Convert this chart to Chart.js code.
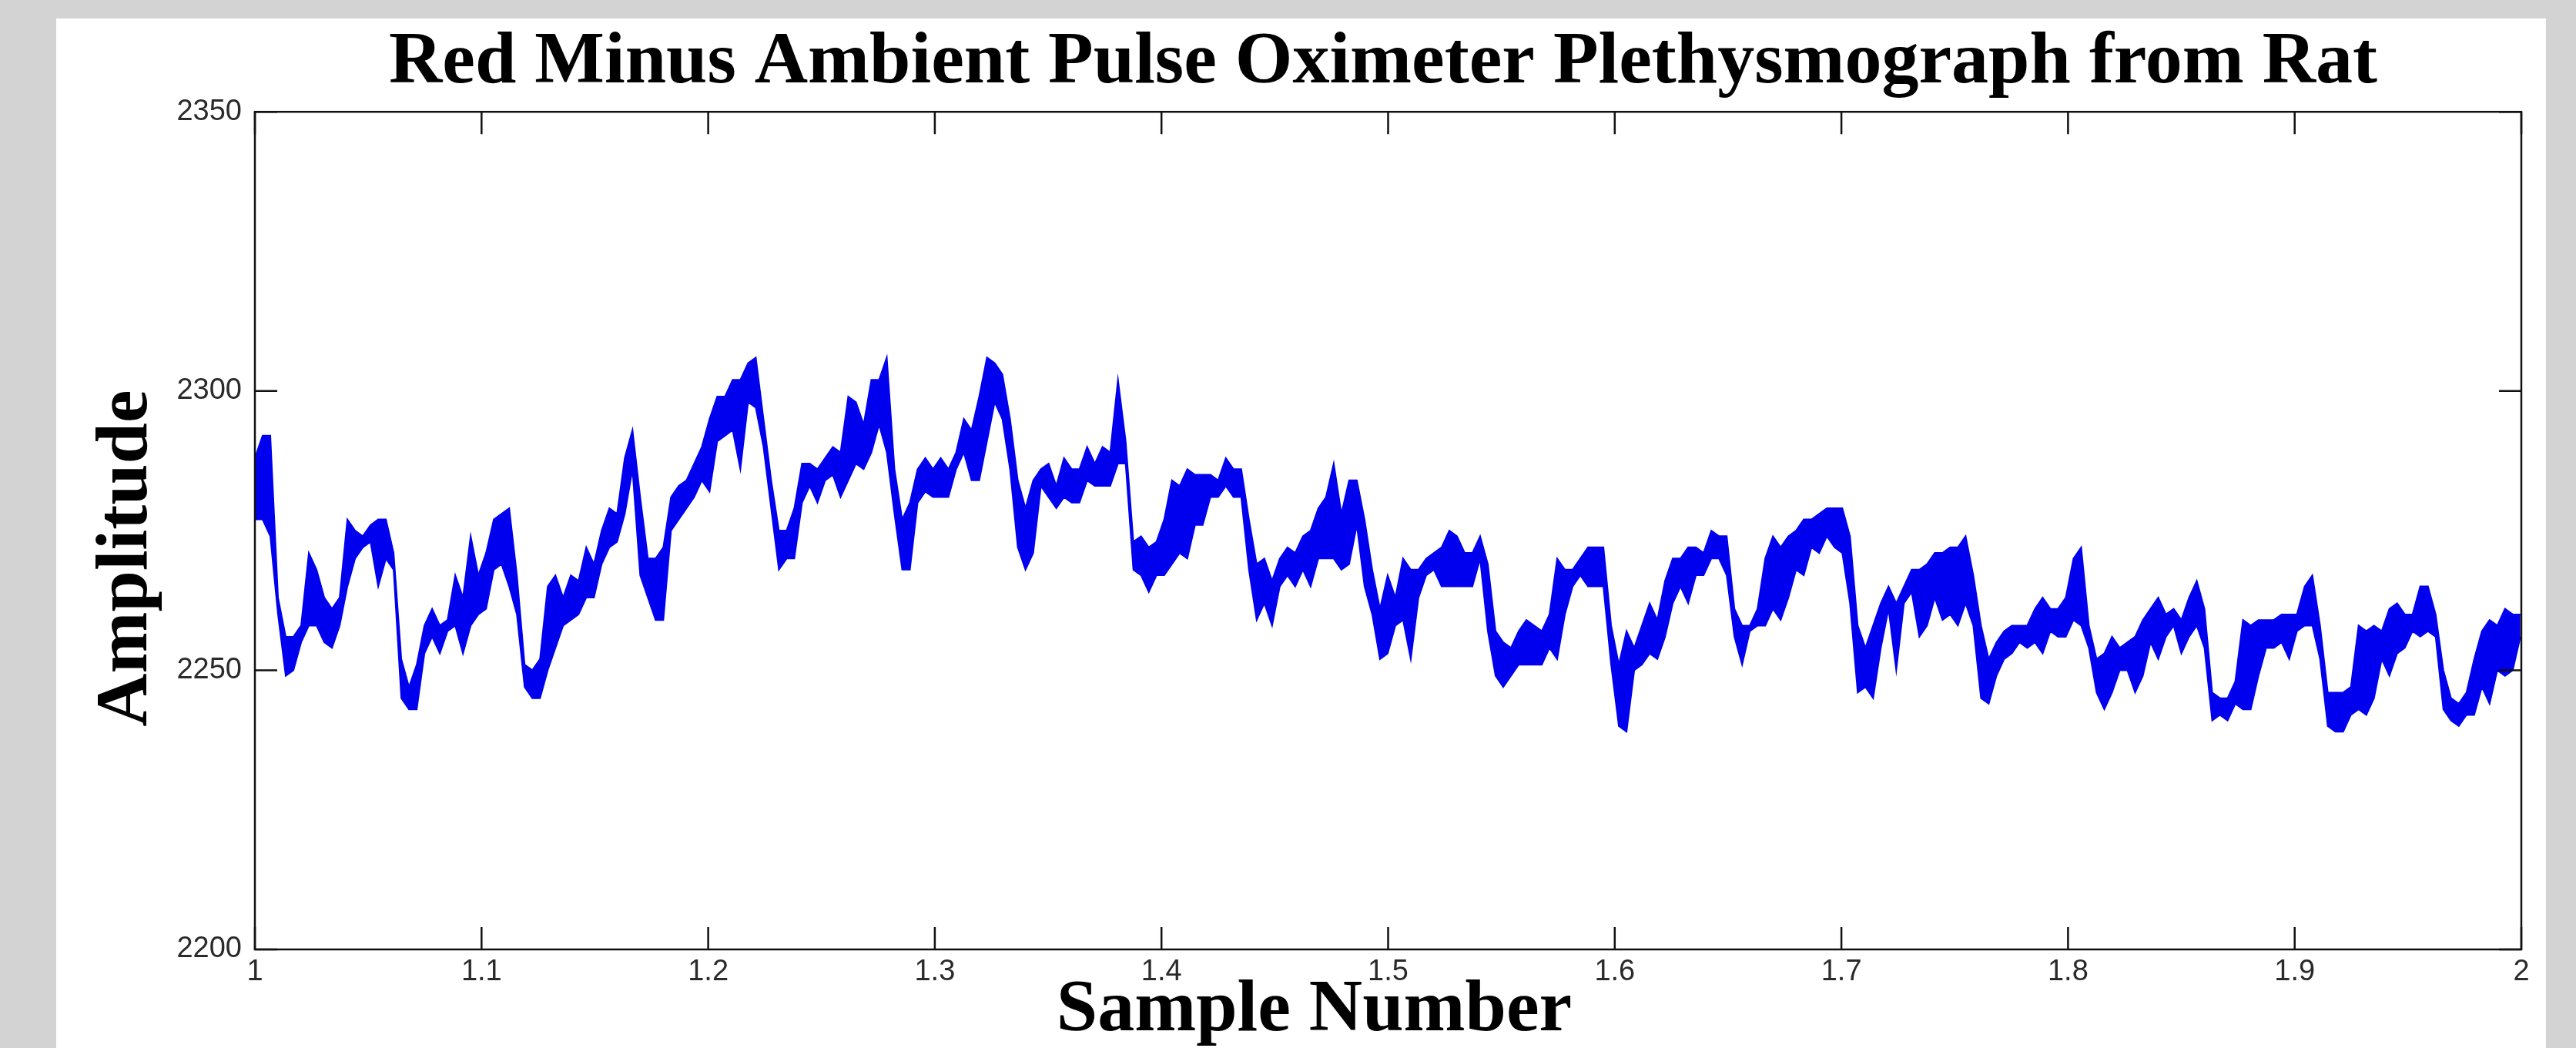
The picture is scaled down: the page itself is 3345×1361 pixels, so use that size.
<!DOCTYPE html>
<html>
<head>
<meta charset="utf-8">
<script src="https://cdn.jsdelivr.net/npm/chart.js@4.4.1/dist/chart.umd.min.js"></script>
<style>
  html, body { margin: 0; width: 3345px; height: 1361px; overflow: hidden; background: #d3d3d3; }
  #panel { position: absolute; left: 73px; top: 24px; width: 3233px; height: 1337px; background: #fff; }
  #plot { position: absolute; left: 100px; top: 0; }
</style>
</head>
<body>
<div id="panel"></div>
<canvas id="plot" width="3392" height="1361"></canvas>
<script>
// sample numbers run from 1 to 2, read every 0.0034
const sampleStart = 1;
const sampleStep = 0.0034;

// upper edge of the noisy trace
const bandTop = [
  2288, 2292, 2292, 2263, 2256, 2256, 2258, 2271, 2268, 2263, 2261, 2263, 2277, 2275, 2274, 2276, 2277,
  2277, 2271, 2252, 2247, 2251, 2258, 2261, 2258, 2259, 2267, 2263, 2274, 2267, 2271, 2277, 2278, 2279,
  2267, 2251, 2250, 2252, 2265, 2267, 2263, 2267, 2266, 2272, 2269, 2275, 2279, 2278, 2288,
  2293, 2281, 2270, 2270, 2272, 2281, 2283, 2284, 2287, 2290, 2295, 2299, 2299, 2302, 2302, 2305, 2306,
  2295, 2284, 2275, 2275, 2279, 2287, 2287, 2286, 2288, 2290, 2289, 2299, 2298, 2294, 2302, 2302, 2306,
  2286, 2277, 2280, 2286, 2288, 2286, 2288, 2286, 2289, 2295, 2293, 2299, 2306, 2305, 2303,
  2295, 2284, 2279, 2284, 2286, 2287, 2283, 2288, 2286, 2286, 2290, 2287, 2290, 2289, 2302, 2291, 2273,
  2274, 2272, 2273, 2277, 2284, 2283, 2286, 2285, 2285, 2285, 2284, 2288, 2286, 2286, 2277, 2269, 2270,
  2266, 2270, 2272, 2271, 2274, 2275, 2279, 2281, 2287, 2278, 2284, 2284, 2277, 2268, 2261,
  2267, 2263, 2270, 2268, 2268, 2270, 2271, 2272, 2275, 2274, 2271, 2271, 2274, 2269, 2257, 2255, 2254,
  2257, 2259, 2258, 2257, 2260, 2270, 2268, 2268, 2270, 2272, 2272, 2272, 2258, 2251, 2257, 2254, 2258,
  2262, 2259, 2266, 2270, 2270, 2272, 2272, 2271, 2275, 2274, 2274, 2261, 2258, 2258, 2261,
  2270, 2274, 2272, 2274, 2275, 2277, 2277, 2278, 2279, 2279, 2279, 2274, 2258, 2254, 2258, 2262, 2265,
  2262, 2265, 2268, 2268, 2269, 2271, 2271, 2272, 2272, 2274, 2267, 2258, 2252, 2255, 2257, 2258, 2258,
  2258, 2261, 2263, 2261, 2261, 2263, 2270, 2272, 2258, 2252, 2253, 2256, 2254, 2255, 2256,
  2259, 2261, 2263, 2260, 2261, 2259, 2263, 2266, 2261, 2246, 2245, 2245, 2248, 2259, 2258, 2259, 2259,
  2259, 2260, 2260, 2260, 2265, 2267, 2258, 2246, 2246, 2246, 2247, 2258, 2257, 2258, 2257, 2261, 2262,
  2260, 2260, 2265, 2265, 2260, 2250, 2245, 2244, 2246, 2252, 2257, 2259, 2258, 2261, 2260, 2260
];

// lower edge of the noisy trace
const bandBottom = [
  2277, 2277, 2274, 2260, 2249, 2250, 2255, 2258, 2258, 2255, 2254, 2258, 2265, 2270, 2272, 2273, 2265,
  2270, 2268, 2245, 2243, 2243, 2253, 2256, 2253, 2257, 2258, 2253, 2258, 2260, 2261, 2268, 2269, 2265,
  2260, 2247, 2245, 2245, 2250, 2254, 2258, 2259, 2260, 2263, 2263, 2269, 2272, 2273, 2278,
  2286, 2267, 2263, 2259, 2259, 2275, 2277, 2279, 2281, 2284, 2282, 2291, 2292, 2293, 2286, 2298, 2297,
  2290, 2279, 2268, 2270, 2270, 2280, 2283, 2280, 2284, 2285, 2281, 2284, 2287, 2286, 2289, 2294, 2289,
  2278, 2268, 2268, 2280, 2282, 2281, 2281, 2281, 2286, 2289, 2284, 2284, 2291, 2298, 2295,
  2286, 2272, 2268, 2271, 2283, 2281, 2279, 2281, 2280, 2280, 2284, 2283, 2283, 2283, 2287, 2287, 2268,
  2267, 2264, 2267, 2267, 2269, 2271, 2270, 2276, 2276, 2281, 2281, 2283, 2281, 2281, 2268, 2259, 2262,
  2258, 2265, 2267, 2265, 2268, 2265, 2270, 2270, 2270, 2268, 2269, 2276, 2265, 2260, 2252,
  2253, 2258, 2259, 2252, 2263, 2267, 2268, 2265, 2265, 2265, 2265, 2265, 2270, 2257, 2249, 2247, 2249,
  2251, 2251, 2251, 2251, 2254, 2252, 2260, 2265, 2267, 2265, 2265, 2265, 2251, 2240, 2239, 2250, 2251,
  2253, 2252, 2256, 2262, 2265, 2262, 2267, 2267, 2270, 2270, 2267, 2256, 2251, 2257, 2258,
  2258, 2261, 2259, 2263, 2268, 2267, 2272, 2271, 2274, 2272, 2271, 2262, 2246, 2247, 2245, 2254, 2261,
  2250, 2262, 2264, 2256, 2258, 2263, 2259, 2260, 2258, 2262, 2258, 2245, 2244, 2249, 2252, 2253, 2255,
  2254, 2255, 2253, 2257, 2256, 2256, 2259, 2258, 2254, 2246, 2243, 2246, 2250, 2250, 2246,
  2249, 2255, 2252, 2256, 2258, 2253, 2256, 2258, 2254, 2241, 2242, 2241, 2244, 2243, 2243, 2249, 2254,
  2254, 2255, 2252, 2257, 2258, 2258, 2252, 2240, 2239, 2239, 2242, 2243, 2242, 2245, 2252, 2249, 2253,
  2254, 2257, 2256, 2257, 2256, 2243, 2241, 2240, 2242, 2242, 2247, 2244, 2250, 2249, 2250, 2256
];

const xTicks = [1, 1.1, 1.2, 1.3, 1.4, 1.5, 1.6, 1.7, 1.8, 1.9, 2];
const yTicks = [2200, 2250, 2300, 2350];

const traceBlue = "#0000ee";
const serif = "'Liberation Serif', 'Times New Roman', serif";
const sans = "'Liberation Sans', Arial, sans-serif";

const topPoints = bandTop.map((v, i) => ({ x: sampleStart + i * sampleStep, y: v }));
const bottomPoints = bandBottom.map((v, i) => ({ x: sampleStart + i * sampleStep, y: v }));

// matlab style box with inward ticks on all four sides
const boxTicks = {
  id: "boxTicks",
  afterDatasetsDraw(chart) {
    const { ctx, chartArea: a, scales: { x, y } } = chart;
    const len = 29;
    ctx.save();
    ctx.strokeStyle = "#111";
    ctx.lineWidth = 2.5;
    ctx.beginPath();
    xTicks.forEach(v => {
      const px = x.getPixelForValue(v);
      ctx.moveTo(px, a.bottom);
      ctx.lineTo(px, a.bottom - len);
      ctx.moveTo(px, a.top);
      ctx.lineTo(px, a.top + len);
    });
    yTicks.forEach(v => {
      const py = y.getPixelForValue(v);
      ctx.moveTo(a.left, py);
      ctx.lineTo(a.left + len, py);
      ctx.moveTo(a.right, py);
      ctx.lineTo(a.right - len, py);
    });
    ctx.stroke();
    ctx.strokeRect(a.left, a.top, a.right - a.left, a.bottom - a.top);
    ctx.restore();
  }
};

new Chart(document.getElementById("plot"), {
  type: "line",
  data: {
    datasets: [
      {
        label: "upper",
        data: topPoints,
        borderColor: traceBlue,
        backgroundColor: traceBlue,
        borderWidth: 2,
        fill: "+1",
        pointRadius: 0,
        tension: 0
      },
      {
        label: "lower",
        data: bottomPoints,
        borderColor: traceBlue,
        borderWidth: 2,
        fill: false,
        pointRadius: 0,
        tension: 0
      }
    ]
  },
  options: {
    responsive: false,
    animation: false,
    layout: { padding: { top: 24, left: 0, right: 0, bottom: 0 } },
    plugins: {
      legend: { display: false },
      tooltip: { enabled: false },
      title: {
        display: true,
        text: "Red Minus Ambient Pulse Oximeter Plethysmograph from Rat",
        color: "#000",
        font: { family: serif, size: 96, weight: "bold", lineHeight: 1.2 },
        padding: { top: 1, bottom: 5 }
      }
    },
    scales: {
      x: {
        type: "linear",
        min: 1,
        max: 2,
        grid: { display: false, drawTicks: false },
        border: { display: false },
        ticks: {
          stepSize: 0.1,
          autoSkip: false,
          maxRotation: 0,
          padding: 7,
          color: "#2a2a2a",
          font: { family: sans, size: 38 },
          callback: v => String(Number(v.toFixed(1)))
        },
        title: {
          display: true,
          text: "Sample Number        ",
          color: "#000",
          font: { family: serif, size: 96, weight: "bold", lineHeight: 1 },
          padding: { top: 0, bottom: 0 }
        },
        afterFit: s => { s.height = 128; }
      },
      y: {
        min: 2200,
        max: 2350,
        grid: { display: false, drawTicks: false },
        border: { display: false },
        ticks: {
          stepSize: 50,
          padding: 17,
          color: "#2a2a2a",
          font: { family: sans, size: 38 },
          callback: v => String(v)
        },
        title: {
          display: true,
          text: "Amplitude   ",
          color: "#000",
          font: { family: serif, size: 96, weight: "bold", lineHeight: 1 },
          padding: { top: 17, bottom: 0 }
        },
        afterFit: s => { s.width = 231; }
      },
      yPad: {
        position: "right",
        grid: { display: false, drawTicks: false },
        border: { display: false },
        ticks: { display: false },
        afterFit: s => { s.width = 218; }
      }
    }
  },
  plugins: [boxTicks]
});
</script>
</body>
</html>
